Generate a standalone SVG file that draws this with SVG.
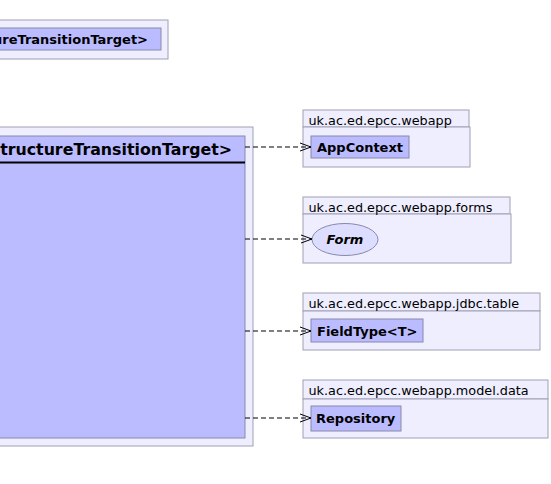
<svg xmlns="http://www.w3.org/2000/svg" width="551" height="484" viewBox="0 0 551 484">
<style>
.pkg{fill:#EEEEFF;stroke:#A0A0B4;stroke-width:1}
.cls{fill:#BBBBFF;stroke:#8888AA;stroke-width:1}
.ell{fill:#DDDDFF;stroke:#8888AA;stroke-width:1}
.pl{font-family:"DejaVu Sans",sans-serif;font-size:12.8px;fill:#000}
.cn{font-family:"DejaVu Sans",sans-serif;font-size:13px;font-weight:bold;fill:#000}
.dep{stroke:#000;stroke-width:1;stroke-dasharray:5,3;fill:none}
</style>
<defs>
<marker id="open" markerWidth="12" markerHeight="10" refX="11" refY="5" orient="auto" markerUnits="userSpaceOnUse">
<path d="M0,1 L11,5 L0,9" fill="none" stroke="#000" stroke-width="1"/>
</marker>
</defs>
<rect width="551" height="484" fill="#fff"/>
<g id="top-node">
<rect class="pkg" x="-10" y="20" width="178" height="39"/>
<rect class="cls" x="-10" y="28" width="171" height="22"/>
<text class="cn" x="148" y="44" text-anchor="end">ureTransitionTarget&gt;</text>
</g>
<g id="main-node">
<rect class="pkg" x="-10" y="127" width="263" height="319"/>
<rect class="cls" x="-10" y="136" width="255" height="302"/>
<line x1="-10" y1="162.5" x2="245" y2="162.5" stroke="#000" stroke-width="2"/>
<text x="232" y="155" text-anchor="end" font-family="DejaVu Sans, sans-serif" font-size="15.8" font-weight="bold" fill="#000">tructureTransitionTarget&gt;</text>
</g>
<g id="pkg-webapp">
<rect class="pkg" x="303" y="110" width="166" height="17"/>
<rect class="pkg" x="303" y="127" width="167" height="40"/>
<text class="pl" x="308.5" y="124.5">uk.ac.ed.epcc.webapp</text>
<rect class="cls" x="311" y="136" width="98" height="22"/>
<text class="cn" x="317" y="152">AppContext</text>
</g>
<g id="pkg-forms">
<rect class="pkg" x="303" y="197" width="207" height="17"/>
<rect class="pkg" x="303" y="214" width="208" height="49"/>
<text class="pl" x="308.5" y="211.5">uk.ac.ed.epcc.webapp.forms</text>
<ellipse class="ell" cx="345" cy="239.5" rx="33" ry="16"/>
<text class="cn" x="345" y="244" text-anchor="middle" font-style="italic">Form</text>
</g>
<g id="pkg-jdbc">
<rect class="pkg" x="303" y="293" width="237" height="18"/>
<rect class="pkg" x="303" y="311" width="237" height="39"/>
<text class="pl" x="308.5" y="307.5">uk.ac.ed.epcc.webapp.jdbc.table</text>
<rect class="cls" x="311" y="319" width="112" height="23"/>
<text class="cn" x="317" y="336">FieldType&lt;T&gt;</text>
</g>
<g id="pkg-model">
<rect class="pkg" x="303" y="380" width="245" height="19"/>
<rect class="pkg" x="303" y="399" width="245" height="39"/>
<text class="pl" x="308.5" y="394.5">uk.ac.ed.epcc.webapp.model.data</text>
<rect class="cls" x="311" y="406" width="90" height="25"/>
<text class="cn" x="316" y="423">Repository</text>
</g>
<g id="connectors">
<line class="dep" x1="245" y1="147" x2="311" y2="147" marker-end="url(#open)"/>
<line class="dep" x1="245" y1="239" x2="312" y2="239" marker-end="url(#open)"/>
<line class="dep" x1="245" y1="331" x2="311" y2="331" marker-end="url(#open)"/>
<line class="dep" x1="245" y1="418" x2="311" y2="418" marker-end="url(#open)"/>
</g>
</svg>
